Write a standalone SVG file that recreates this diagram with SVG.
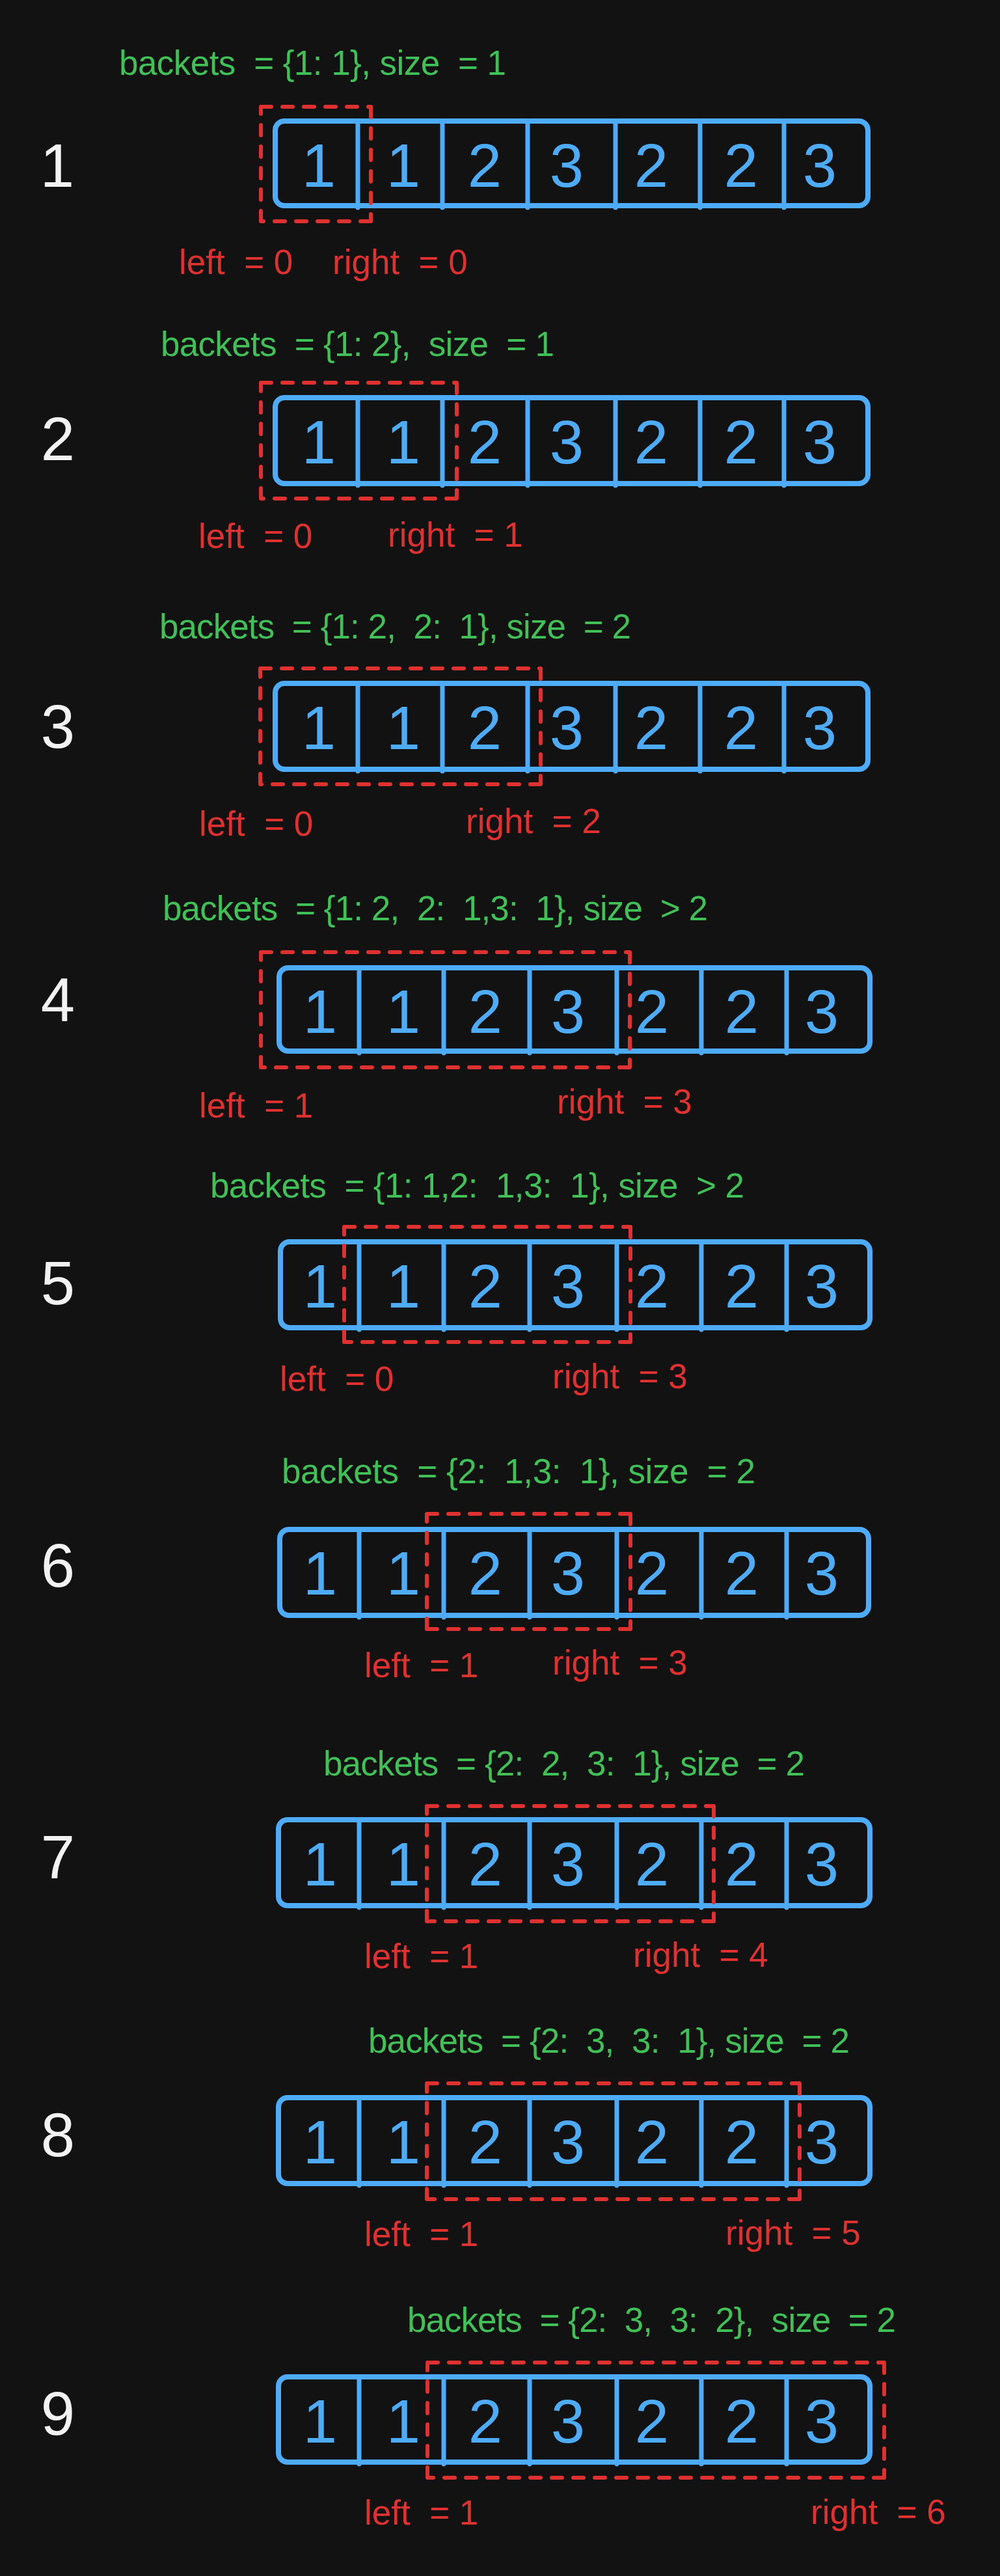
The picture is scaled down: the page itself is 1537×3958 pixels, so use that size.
<svg xmlns="http://www.w3.org/2000/svg" width="1537" height="3958" viewBox="0 0 1537 3958" xml:space="preserve">
<style>
text{font-family:"Liberation Sans",Arial,sans-serif;white-space:pre}
.arr{fill:none;stroke:#4dabf7;stroke-width:8;stroke-linejoin:round}
.dv{stroke:#4dabf7;stroke-width:7;stroke-linecap:round}
.dg{font-size:94px;fill:#4dabf7;text-anchor:middle}
.num{font-size:94px;fill:#f2f2f2;text-anchor:middle}
.gr{font-size:53px;fill:#40c057}
.rd{font-size:53px;fill:#e03131}
.win{fill:none;stroke:#e03131;stroke-width:6;stroke-dasharray:16 17;stroke-linecap:round}
</style>
<rect x="0" y="0" width="1537" height="3958" fill="#121212"/>

<g id="row1">
<text class="gr" x="183" y="115" textLength="595">backets  = {1: 1}, size  = 1</text>
<text class="num" x="88" y="287">1</text>
<rect class="arr" x="423" y="186" width="911" height="130" rx="14"/>
<path class="dv" d="M550 186V319M680 186V319M811 186V319M946 186V319M1076 186V319M1205 186V319"/>
<text class="dg" x="490" y="287">1</text><text class="dg" x="620" y="287">1</text><text class="dg" x="745" y="287">2</text><text class="dg" x="871" y="287">3</text><text class="dg" x="1001" y="287">2</text><text class="dg" x="1139" y="287">2</text><text class="dg" x="1260" y="287">3</text>
<path class="win" d="M401 164H570M570 164V340M570 340H401M401 340V164"/>
<text class="rd" x="275" y="421">left  = 0</text>
<text class="rd" x="511" y="421">right  = 0</text>
</g>

<g id="row2">
<text class="gr" x="247" y="547" textLength="605">backets  = {1: 2},  size  = 1</text>
<text class="num" x="89" y="707">2</text>
<rect class="arr" x="423" y="611" width="911" height="132" rx="14"/>
<path class="dv" d="M550 611V746M680 611V746M811 611V746M946 611V746M1076 611V746M1205 611V746"/>
<text class="dg" x="490" y="712">1</text><text class="dg" x="620" y="712">1</text><text class="dg" x="745" y="712">2</text><text class="dg" x="871" y="712">3</text><text class="dg" x="1001" y="712">2</text><text class="dg" x="1139" y="712">2</text><text class="dg" x="1260" y="712">3</text>
<path class="win" d="M401 588H702M702 588V766M702 766H401M401 766V588"/>
<text class="rd" x="305" y="842">left  = 0</text>
<text class="rd" x="596" y="840">right  = 1</text>
</g>

<g id="row3">
<text class="gr" x="245" y="981" textLength="725">backets  = {1: 2,  2:  1}, size  = 2</text>
<text class="num" x="89" y="1149">3</text>
<rect class="arr" x="423" y="1050" width="911" height="132" rx="14"/>
<path class="dv" d="M550 1050V1185M680 1050V1185M811 1050V1185M946 1050V1185M1076 1050V1185M1205 1050V1185"/>
<text class="dg" x="490" y="1151">1</text><text class="dg" x="620" y="1151">1</text><text class="dg" x="745" y="1151">2</text><text class="dg" x="871" y="1151">3</text><text class="dg" x="1001" y="1151">2</text><text class="dg" x="1139" y="1151">2</text><text class="dg" x="1260" y="1151">3</text>
<path class="win" d="M400 1027H831M831 1027V1205M831 1205H400M400 1205V1027"/>
<text class="rd" x="306" y="1284">left  = 0</text>
<text class="rd" x="716" y="1280">right  = 2</text>
</g>

<g id="row4">
<text class="gr" x="250" y="1414" textLength="838">backets  = {1: 2,  2:  1,3:  1}, size  &gt; 2</text>
<text class="num" x="89" y="1569">4</text>
<rect class="arr" x="429" y="1487" width="908" height="128" rx="14"/>
<path class="dv" d="M552 1487V1618M682 1487V1618M814 1487V1618M948 1487V1618M1078 1487V1618M1209 1487V1618"/>
<text class="dg" x="492" y="1587">1</text><text class="dg" x="620" y="1587">1</text><text class="dg" x="746" y="1587">2</text><text class="dg" x="873" y="1587">3</text><text class="dg" x="1002" y="1587">2</text><text class="dg" x="1140" y="1587">2</text><text class="dg" x="1263" y="1587">3</text>
<path class="win" d="M401 1463H968M968 1463V1640M968 1640H401M401 1640V1463"/>
<text class="rd" x="306" y="1717">left  = 1</text>
<text class="rd" x="856" y="1711">right  = 3</text>
</g>

<g id="row5">
<text class="gr" x="323" y="1840" textLength="821">backets  = {1: 1,2:  1,3:  1}, size  &gt; 2</text>
<text class="num" x="89" y="2004">5</text>
<rect class="arr" x="431" y="1908" width="906" height="132" rx="14"/>
<path class="dv" d="M552 1908V2043M682 1908V2043M814 1908V2043M948 1908V2043M1078 1908V2043M1209 1908V2043"/>
<text class="dg" x="492" y="2009">1</text><text class="dg" x="620" y="2009">1</text><text class="dg" x="746" y="2009">2</text><text class="dg" x="873" y="2009">3</text><text class="dg" x="1002" y="2009">2</text><text class="dg" x="1140" y="2009">2</text><text class="dg" x="1263" y="2009">3</text>
<path class="win" d="M529 1885H969M969 1885V2062M969 2062H529M529 2062V1885"/>
<text class="rd" x="430" y="2137">left  = 0</text>
<text class="rd" x="849" y="2133">right  = 3</text>
</g>

<g id="row6">
<text class="gr" x="433" y="2279" textLength="728">backets  = {2:  1,3:  1}, size  = 2</text>
<text class="num" x="89" y="2438">6</text>
<rect class="arr" x="430" y="2350" width="905" height="132" rx="14"/>
<path class="dv" d="M552 2350V2485M682 2350V2485M814 2350V2485M948 2350V2485M1078 2350V2485M1209 2350V2485"/>
<text class="dg" x="492" y="2450">1</text><text class="dg" x="620" y="2450">1</text><text class="dg" x="746" y="2450">2</text><text class="dg" x="873" y="2450">3</text><text class="dg" x="1002" y="2450">2</text><text class="dg" x="1140" y="2450">2</text><text class="dg" x="1263" y="2450">3</text>
<path class="win" d="M656 2326H969M969 2326V2503M969 2503H656M656 2503V2326"/>
<text class="rd" x="560" y="2577">left  = 1</text>
<text class="rd" x="849" y="2573">right  = 3</text>
</g>

<g id="row7">
<text class="gr" x="497" y="2728" textLength="740">backets  = {2:  2,  3:  1}, size  = 2</text>
<text class="num" x="89" y="2886">7</text>
<rect class="arr" x="428" y="2796" width="909" height="132" rx="14"/>
<path class="dv" d="M552 2796V2931M682 2796V2931M814 2796V2931M948 2796V2931M1078 2796V2931M1209 2796V2931"/>
<text class="dg" x="492" y="2897">1</text><text class="dg" x="620" y="2897">1</text><text class="dg" x="746" y="2897">2</text><text class="dg" x="873" y="2897">3</text><text class="dg" x="1002" y="2897">2</text><text class="dg" x="1140" y="2897">2</text><text class="dg" x="1263" y="2897">3</text>
<path class="win" d="M656 2775H1097M1097 2775V2952M1097 2952H656M656 2952V2775"/>
<text class="rd" x="560" y="3024">left  = 1</text>
<text class="rd" x="973" y="3022">right  = 4</text>
</g>

<g id="row8">
<text class="gr" x="566" y="3154" textLength="740">backets  = {2:  3,  3:  1}, size  = 2</text>
<text class="num" x="89" y="3313">8</text>
<rect class="arr" x="428" y="3223" width="909" height="132" rx="14"/>
<path class="dv" d="M552 3223V3358M682 3223V3358M814 3223V3358M948 3223V3358M1078 3223V3358M1209 3223V3358"/>
<text class="dg" x="492" y="3324">1</text><text class="dg" x="620" y="3324">1</text><text class="dg" x="746" y="3324">2</text><text class="dg" x="873" y="3324">3</text><text class="dg" x="1002" y="3324">2</text><text class="dg" x="1140" y="3324">2</text><text class="dg" x="1263" y="3324">3</text>
<path class="win" d="M656 3201H1229M1229 3201V3379M1229 3379H656M656 3379V3201"/>
<text class="rd" x="560" y="3451">left  = 1</text>
<text class="rd" x="1115" y="3449">right  = 5</text>
</g>

<g id="row9">
<text class="gr" x="626" y="3583" textLength="751">backets  = {2:  3,  3:  2},  size  = 2</text>
<text class="num" x="89" y="3741">9</text>
<rect class="arr" x="428" y="3652" width="909" height="131" rx="14"/>
<path class="dv" d="M552 3652V3786M682 3652V3786M814 3652V3786M948 3652V3786M1078 3652V3786M1209 3652V3786"/>
<text class="dg" x="492" y="3753">1</text><text class="dg" x="620" y="3753">1</text><text class="dg" x="746" y="3753">2</text><text class="dg" x="873" y="3753">3</text><text class="dg" x="1002" y="3753">2</text><text class="dg" x="1140" y="3753">2</text><text class="dg" x="1263" y="3753">3</text>
<path class="win" d="M657 3630H1359M1359 3630V3807M1359 3807H657M657 3807V3630"/>
<text class="rd" x="560" y="3879">left  = 1</text>
<text class="rd" x="1246" y="3878">right  = 6</text>
</g>
</svg>
